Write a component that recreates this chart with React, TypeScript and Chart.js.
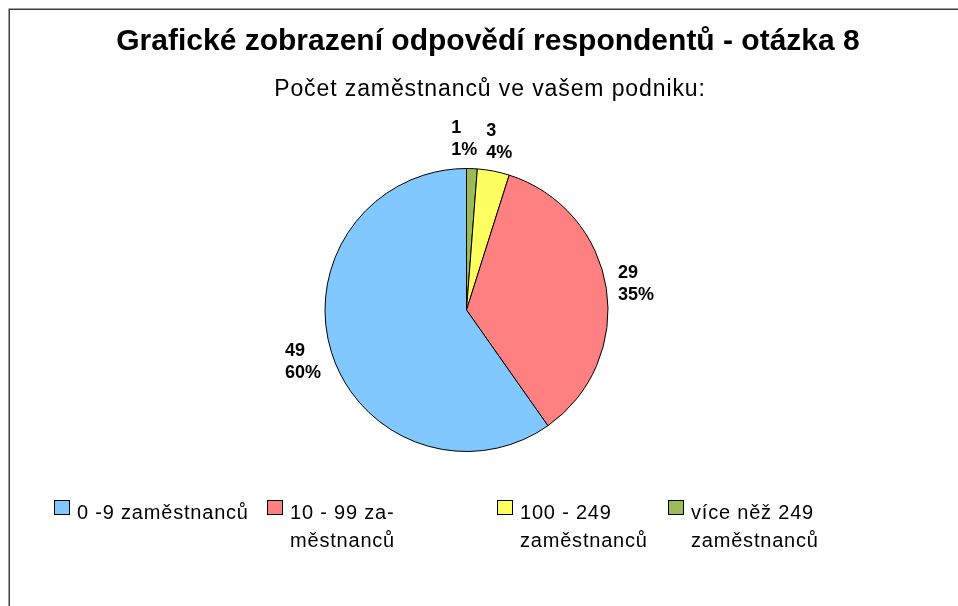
import React, { useEffect, useRef } from "react";
import { Chart, registerables } from "chart.js";

Chart.register(...registerables);

const titleText = "Grafické zobrazení odpovědí respondentů - otázka 8";
const subtitleText = "Počet zaměstnanců ve vašem podniku:";
const categories = ["0 -9 zaměstnanců", "10 - 99 zaměstnanců", "100 - 249 zaměstnanců", "více něž 249 zaměstnanců"];
const legendLines = [["0 -9 zaměstnanců"], ["10 - 99 za-", "městnanců"], ["100 - 249", "zaměstnanců"], ["více něž 249", "zaměstnanců"]];
const counts = [49, 29, 3, 1];
const sliceColors = ["#80C8FF", "#FF8080", "#FFFF60", "#9BBB59"];

const total = counts.reduce((a, b) => a + b, 0);
const percents = counts.map((c) => Math.round((c / total) * 100) + "%");

// Excel draws the slices counter-clockwise from 12 o'clock; Chart.js clockwise, so reverse.
const drawOrder = counts.map((_, i) => counts.length - 1 - i);

const FONT = "'Liberation Sans', Arial, sans-serif";

const framePlugin = {
  id: "frame",
  beforeDraw(chart: any) {
    const ctx = chart.ctx;
    ctx.save();
    ctx.fillStyle = "#fff";
    ctx.fillRect(0, 0, chart.width, chart.height);
    ctx.strokeStyle = "#404040";
    ctx.lineWidth = 1.5;
    ctx.beginPath();
    ctx.moveTo(9.25, chart.height);
    ctx.lineTo(9.25, 9.25);
    ctx.lineTo(chart.width, 9.25);
    ctx.stroke();
    ctx.restore();
  },
};

const titlesPlugin = {
  id: "titles",
  afterDraw(chart: any) {
    const ctx = chart.ctx;
    ctx.save();
    ctx.fillStyle = "#000";
    ctx.textAlign = "center";
    ctx.textBaseline = "alphabetic";
    ctx.font = `bold 30px ${FONT}`;
    ctx.fillText(titleText, 488, 50);
    ctx.font = `23px ${FONT}`;
    (ctx as any).letterSpacing = "0.9px";
    ctx.fillText(subtitleText, 490, 96);
    ctx.restore();
  },
};

const dataLabelsPlugin = {
  id: "sliceLabels",
  afterDatasetsDraw(chart: any) {
    const ctx = chart.ctx;
    const meta = chart.getDatasetMeta(0);
    ctx.save();
    ctx.font = `bold 18px ${FONT}`;
    const lineH = 22;
    const boxes: any[] = [];
    meta.data.forEach((arc: any, k: number) => {
      const idx = drawOrder[k];
      const p = arc.getProps(["startAngle", "endAngle", "x", "y", "outerRadius"], true);
      const mid = (p.startAngle + p.endAngle) / 2;
      const r = p.outerRadius + 30;
      const cx = p.x + Math.cos(mid) * r;
      const cy = p.y + Math.sin(mid) * r;
      const l1 = String(counts[idx]);
      const l2 = percents[idx];
      const w = Math.max(ctx.measureText(l1).width, ctx.measureText(l2).width);
      boxes.push({ cx, cy, w, h: lineH * 2, l1, l2 });
    });
    // push apart labels that collide
    for (let i = 0; i < boxes.length; i++) {
      for (let j = i + 1; j < boxes.length; j++) {
        const a = boxes[i];
        const b = boxes[j];
        if (Math.abs(a.cy - b.cy) < (a.h + b.h) / 2) {
          const [L, R] = a.cx < b.cx ? [a, b] : [b, a];
          const gap = R.cx - R.w / 2 - (L.cx + L.w / 2);
          if (gap < 9) L.cx -= 9 - gap;
        }
      }
    }
    ctx.fillStyle = "#000";
    ctx.textAlign = "left";
    ctx.textBaseline = "alphabetic";
    boxes.forEach((b) => {
      const x = b.cx - b.w / 2;
      ctx.fillText(b.l1, x, b.cy - 6);
      ctx.fillText(b.l2, x, b.cy + 16);
    });
    ctx.restore();
  },
};

const legendPlugin = {
  id: "customLegend",
  afterDraw(chart: any) {
    const ctx = chart.ctx;
    const boxX = [54, 267, 497, 668];
    const textGap = 23;
    const baseY = 519;
    const lineH = 28;
    ctx.save();
    ctx.font = `20px ${FONT}`;
    (ctx as any).letterSpacing = "0.8px";
    ctx.textAlign = "left";
    ctx.textBaseline = "alphabetic";
    categories.forEach((_, i) => {
      ctx.fillStyle = sliceColors[i];
      ctx.fillRect(boxX[i] + 0.5, 500.5, 15, 14);
      ctx.strokeStyle = "#000";
      ctx.lineWidth = 1;
      ctx.strokeRect(boxX[i] + 0.5, 500.5, 15, 14);
      ctx.fillStyle = "#000";
      legendLines[i].forEach((line, li) => {
        ctx.fillText(line, boxX[i] + textGap, baseY + li * lineH);
      });
    });
    ctx.restore();
  },
};

export default function App() {
  const ref = useRef<HTMLCanvasElement | null>(null);
  useEffect(() => {
    if (!ref.current) return;
    const chart = new Chart(ref.current, {
      type: "pie",
      data: {
        labels: drawOrder.map((i) => categories[i]),
        datasets: [
          {
            data: drawOrder.map((i) => counts[i]),
            backgroundColor: drawOrder.map((i) => sliceColors[i]),
            borderColor: "#000",
            borderWidth: 1,
          },
        ],
      },
      options: {
        responsive: false,
        animation: false,
        devicePixelRatio: 1,
        layout: { padding: { left: 324, right: 349, top: 168, bottom: 154 } },
        plugins: {
          legend: { display: false },
          title: { display: false },
          tooltip: { enabled: false },
        },
      },
      plugins: [framePlugin, titlesPlugin, dataLabelsPlugin, legendPlugin],
    });
    return () => chart.destroy();
  }, []);
  return (
    <div style={{ position: "fixed", left: 0, top: 0, width: 958, height: 606, background: "#fff" }}>
      <canvas ref={ref} width={958} height={606} style={{ width: 958, height: 606, display: "block" }} />
    </div>
  );
}
